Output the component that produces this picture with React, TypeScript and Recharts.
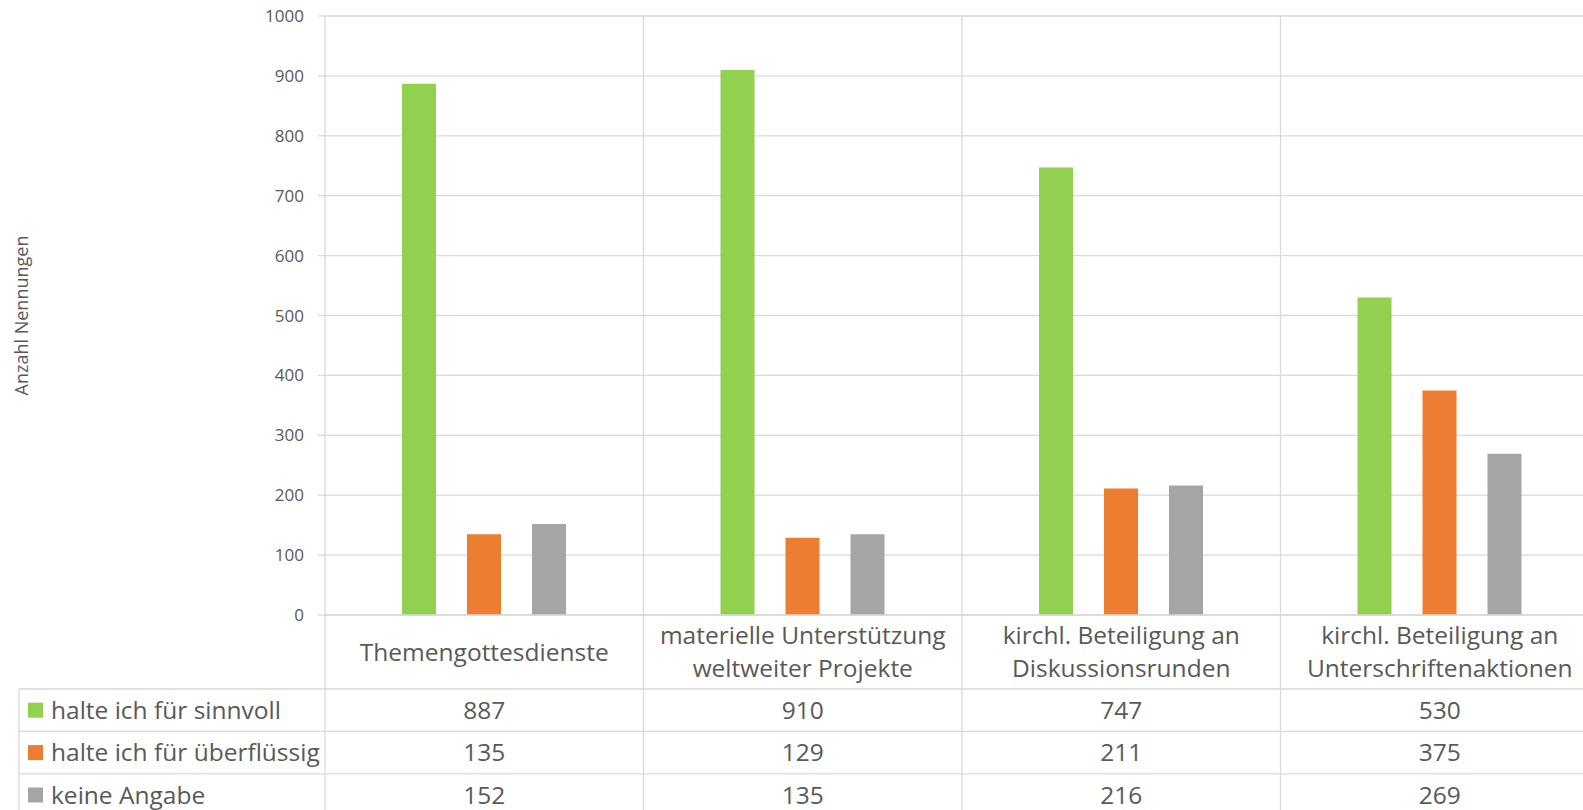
import React from 'react';
import { BarChart, Bar, XAxis, YAxis, CartesianGrid } from 'recharts';

const categoryLines: string[][] = [
  ['Themengottesdienste'],
  ['materielle Unterstützung', 'weltweiter Projekte'],
  ['kirchl. Beteiligung an', 'Diskussionsrunden'],
  ['kirchl. Beteiligung an', 'Unterschriftenaktionen'],
];
const categories = categoryLines.map((l) => l.join(' '));
const seriesNames = ['halte ich für sinnvoll', 'halte ich für überflüssig', 'keine Angabe'];
const sinnvoll = [887, 910, 747, 530];
const ueberfluessig = [135, 129, 211, 375];
const keineAngabe = [152, 135, 216, 269];
const yTicks = [0, 100, 200, 300, 400, 500, 600, 700, 800, 900, 1000];
const seriesKeys = ['sinnvoll', 'ueberfluessig', 'keineAngabe'];
const seriesColors = ['#92D050', '#ED7D31', '#A5A5A5'];
const seriesValues = [sinnvoll, ueberfluessig, keineAngabe];

const data = categories.map((c, i) => ({
  name: c,
  sinnvoll: sinnvoll[i],
  ueberfluessig: ueberfluessig[i],
  keineAngabe: keineAngabe[i],
}));

const CHART_W = 1610;
const CHART_H = 830;
const TOP = 16;
const PLOT_H = 599;
const YAXIS_W = 325;
const RIGHT = 11;
const XAXIS_H = CHART_H - TOP - PLOT_H;
const LABEL_H = 74;
const ROW_H = 42.4;
const TABLE_LEFT = 19;
const GRID = '#D9D9D9';
const TEXT = '#595959';
const FONT = "'Open Sans', sans-serif";
const BIG = 24.5;

const TableTick = (props: any) => {
  const { x, y, payload } = props;
  const idx = payload.index as number;
  const half = payload.offset ?? (props.width / categories.length) / 2;
  const left = x - half;
  const right = x + half;
  const tableTop = y + LABEL_H;
  const tableBottom = tableTop + ROW_H * seriesNames.length;
  const lines = categoryLines[idx] || [String(payload.value)];
  const lh = 33;
  const labelCenter = y + LABEL_H / 2;
  const els: React.ReactNode[] = [];
  els.push(<line key="vl" x1={left} x2={left} y1={TOP} y2={tableBottom} stroke={GRID} strokeWidth={1.3} />);
  if (idx === categories.length - 1) {
    els.push(<line key="vr" x1={right} x2={right} y1={TOP} y2={tableBottom} stroke={GRID} strokeWidth={1.3} />);
  }
  lines.forEach((ln, k) => {
    const cy = labelCenter + (k - (lines.length - 1) / 2) * lh;
    els.push(
      <text key={'c' + k} x={x} y={cy} dy={BIG * 0.36} textAnchor="middle" fill={TEXT} fontSize={BIG} fontFamily={FONT}>
        {ln}
      </text>
    );
  });
  for (let r = 0; r < seriesNames.length; r++) {
    const ly = tableTop + r * ROW_H;
    els.push(<line key={'h' + r} x1={left} x2={right} y1={ly} y2={ly} stroke={GRID} strokeWidth={1.3} />);
    els.push(
      <text key={'v' + r} x={x} y={ly + ROW_H / 2} dy={BIG * 0.36} textAnchor="middle" fill={TEXT} fontSize={BIG} fontFamily={FONT}>
        {seriesValues[r][idx]}
      </text>
    );
  }
  els.push(<line key="hb" x1={left} x2={right} y1={tableBottom} y2={tableBottom} stroke={GRID} strokeWidth={1.3} />);
  if (idx === 0) {
    els.push(<line key="ll" x1={TABLE_LEFT} x2={TABLE_LEFT} y1={tableTop} y2={tableBottom} stroke={GRID} strokeWidth={1.3} />);
    for (let r = 0; r < seriesNames.length; r++) {
      const ly = tableTop + r * ROW_H;
      els.push(<line key={'lh' + r} x1={TABLE_LEFT} x2={left} y1={ly} y2={ly} stroke={GRID} strokeWidth={1.3} />);
      els.push(<rect key={'sq' + r} x={28} y={ly + ROW_H / 2 - 7.5} width={15} height={15} fill={seriesColors[r]} />);
      els.push(
        <text key={'lt' + r} x={51} y={ly + ROW_H / 2} dy={BIG * 0.36} textAnchor="start" fill={TEXT} fontSize={BIG} fontFamily={FONT}>
          {seriesNames[r]}
        </text>
      );
    }
    els.push(<line key="lhb" x1={TABLE_LEFT} x2={left} y1={tableBottom} y2={tableBottom} stroke={GRID} strokeWidth={1.3} />);
  }
  return <g>{els}</g>;
};

const YLabel = (props: any) => {
  const vb = props.viewBox || { x: 0, y: TOP, width: YAXIS_W, height: PLOT_H };
  const cx = 21;
  const cy = vb.y + vb.height / 2;
  return (
    <text x={cx} y={cy} transform={`rotate(-90, ${cx}, ${cy})`} textAnchor="middle" dominantBaseline="central" fill={TEXT} fontSize={18} fontFamily={FONT}>
      Anzahl Nennungen
    </text>
  );
};

export default function App() {
  return (
    <div style={{ position: 'fixed', left: 0, top: 0, width: 1583, height: 810, overflow: 'hidden', background: '#fff' }}>
      <BarChart
        width={CHART_W}
        height={CHART_H}
        data={data}
        margin={{ top: TOP, right: RIGHT, left: 0, bottom: 0 }}
        barSize={34}
        barGap={31}
      >
        <CartesianGrid vertical={false} stroke={GRID} strokeWidth={1.3} />
        <YAxis
          width={YAXIS_W}
          domain={[0, 1000]}
          ticks={yTicks}
          interval={0}
          axisLine={false}
          tickSize={7}
          tickMargin={14}
          tickLine={{ stroke: GRID, strokeWidth: 1.3 }}
          tick={{ fill: TEXT, fontSize: 17, fontFamily: FONT }}
          label={<YLabel />}
        />
        <XAxis
          dataKey="name"
          height={XAXIS_H}
          interval={0}
          tickLine={false}
          axisLine={{ stroke: GRID, strokeWidth: 1.3 }}
          tickSize={0}
          tickMargin={0}
          tick={<TableTick />}
        />
        {seriesKeys.map((k, i) => (
          <Bar key={k} dataKey={k} name={seriesNames[i]} fill={seriesColors[i]} isAnimationActive={false} />
        ))}
      </BarChart>
    </div>
  );
}
